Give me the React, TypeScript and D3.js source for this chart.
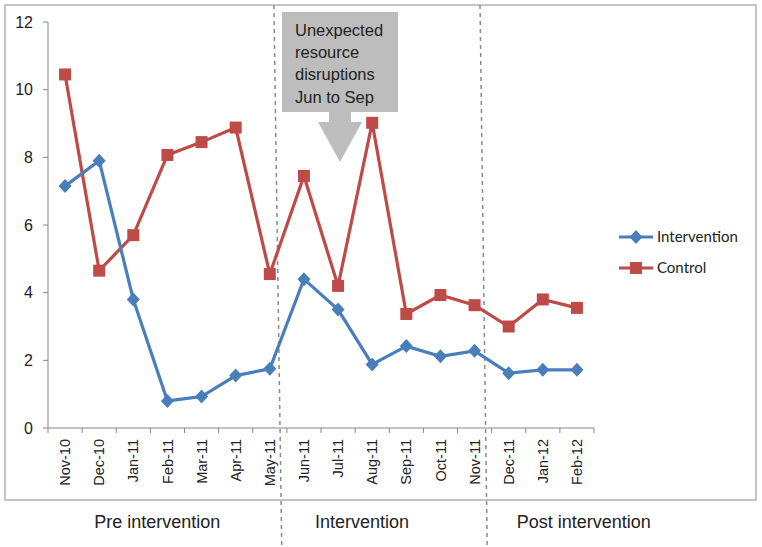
import React from "react";
import * as d3 from "d3";

const categories = ["Nov-10","Dec-10","Jan-11","Feb-11","Mar-11","Apr-11","May-11","Jun-11","Jul-11","Aug-11","Sep-11","Oct-11","Nov-11","Dec-11","Jan-12","Feb-12"];
const intervention = [7.15,7.9,3.8,0.8,0.93,1.55,1.75,4.4,3.5,1.88,2.42,2.12,2.28,1.62,1.72,1.72];
const control = [10.45,4.65,5.7,8.07,8.45,8.88,4.55,7.45,4.2,9.02,3.37,3.93,3.63,3.0,3.8,3.55];
const yTicks = [0,2,4,6,8,10,12];
const phases = ["Pre intervention","Intervention","Post intervention"];
const phaseCenters = [3.2, 9.2, 15.7]; // in category-index units
const dividers = [[6.62, 6.85],[12.66, 12.87]]; // [top, bottom] in index units
const calloutLines = ["Unexpected","resource","disruptions","Jun to Sep"];

const W = 762, H = 547;
const left = 48, right = 594, top = 22, bottom = 428;
const BLUE = "#4a7ebb", RED = "#be4b48";

export default function App() {
  const x = d3.scaleBand<string>().domain(categories).range([left, right]).padding(0);
  const xi = d3.scaleLinear().domain([0, categories.length]).range([left, right]);
  const y = d3.scaleLinear().domain([0, 12]).range([bottom, top]);
  const cx = (c: string) => (x(c) as number) + x.bandwidth() / 2;
  const line = d3.line<number>().x((_, i) => cx(categories[i])).y(d => y(d));
  const diamond = "M0,-7 L6.5,0 L0,7 L-6.5,0 Z";
  const font = "'Liberation Sans', Arial, sans-serif";

  return (
    <div style={{ position: "fixed", left: 0, top: 0 }}>
      <svg width={W} height={H} style={{ display: "block", background: "#fff" }}>
        <rect x={5} y={5} width={751} height={495} fill="#fff" stroke="#c4c4c4" strokeWidth={2} />
        {/* y axis */}
        <line x1={left} x2={left} y1={top} y2={bottom} stroke="#868686" strokeWidth={1} />
        {yTicks.map(t => (
          <g key={t}>
            <line x1={left - 5} x2={left} y1={y(t)} y2={y(t)} stroke="#868686" />
            <text x={33} y={y(t)} dy="0.35em" textAnchor="end" fontFamily={font} fontSize={16} fill="#222">{t}</text>
          </g>
        ))}
        {/* x axis */}
        <line x1={left} x2={right} y1={bottom} y2={bottom} stroke="#868686" />
        {d3.range(categories.length + 1).map(i => (
          <line key={i} x1={xi(i)} x2={xi(i)} y1={bottom} y2={bottom + 5} stroke="#868686" />
        ))}
        {categories.map(c => (
          <text key={c} transform={`translate(${cx(c)},${439}) rotate(-90)`} textAnchor="end" dy="0.35em"
            fontFamily={font} fontSize={14.5} fill="#222">{c}</text>
        ))}
        {/* dividers */}
        {dividers.map((d, i) => (
          <line key={i} x1={xi(d[0])} x2={xi(d[1])} y1={5} y2={H} stroke="#8a8a8a" strokeWidth={1.5} strokeDasharray="4,4" />
        ))}
        {/* callout */}
        <path d={`M282,12 H398 V112 H351 V122 H362 L340,162 L318,122 H329 V112 H282 Z`} fill="#bdbdbd" />
        {calloutLines.map((t, i) => (
          <text key={t} x={295} y={30 + i * 22.3} dy="0.35em" fontFamily={font} fontSize={16.5} fill="#222">{t}</text>
        ))}
        {/* series */}
        <path d={line(control) as string} fill="none" stroke={RED} strokeWidth={3.2} />
        <path d={line(intervention) as string} fill="none" stroke={BLUE} strokeWidth={3.2} />
        {control.map((v, i) => (
          <rect key={i} x={cx(categories[i]) - 6} y={y(v) - 6} width={12} height={12} fill={RED} />
        ))}
        {intervention.map((v, i) => (
          <path key={i} d={diamond} transform={`translate(${cx(categories[i])},${y(v)})`} fill={BLUE} />
        ))}
        {/* legend */}
        <g fontFamily="Lato, 'Open Sans', sans-serif" fontSize={15} fill="#222">
          <line x1={619} x2={653} y1={237} y2={237} stroke={BLUE} strokeWidth={3} />
          <path d={diamond} transform="translate(636,237)" fill={BLUE} />
          <text x={657} y={237} dy="0.35em">Intervention</text>
          <line x1={619} x2={653} y1={268} y2={268} stroke={RED} strokeWidth={3} />
          <rect x={630} y={262} width={12} height={12} fill={RED} />
          <text x={657} y={268} dy="0.35em">Control</text>
        </g>
        {/* phase labels */}
        {phases.map((p, i) => (
          <text key={p} x={xi(phaseCenters[i])} y={528} textAnchor="middle" fontFamily={font} fontSize={18} fill="#222">{p}</text>
        ))}
      </svg>
    </div>
  );
}
